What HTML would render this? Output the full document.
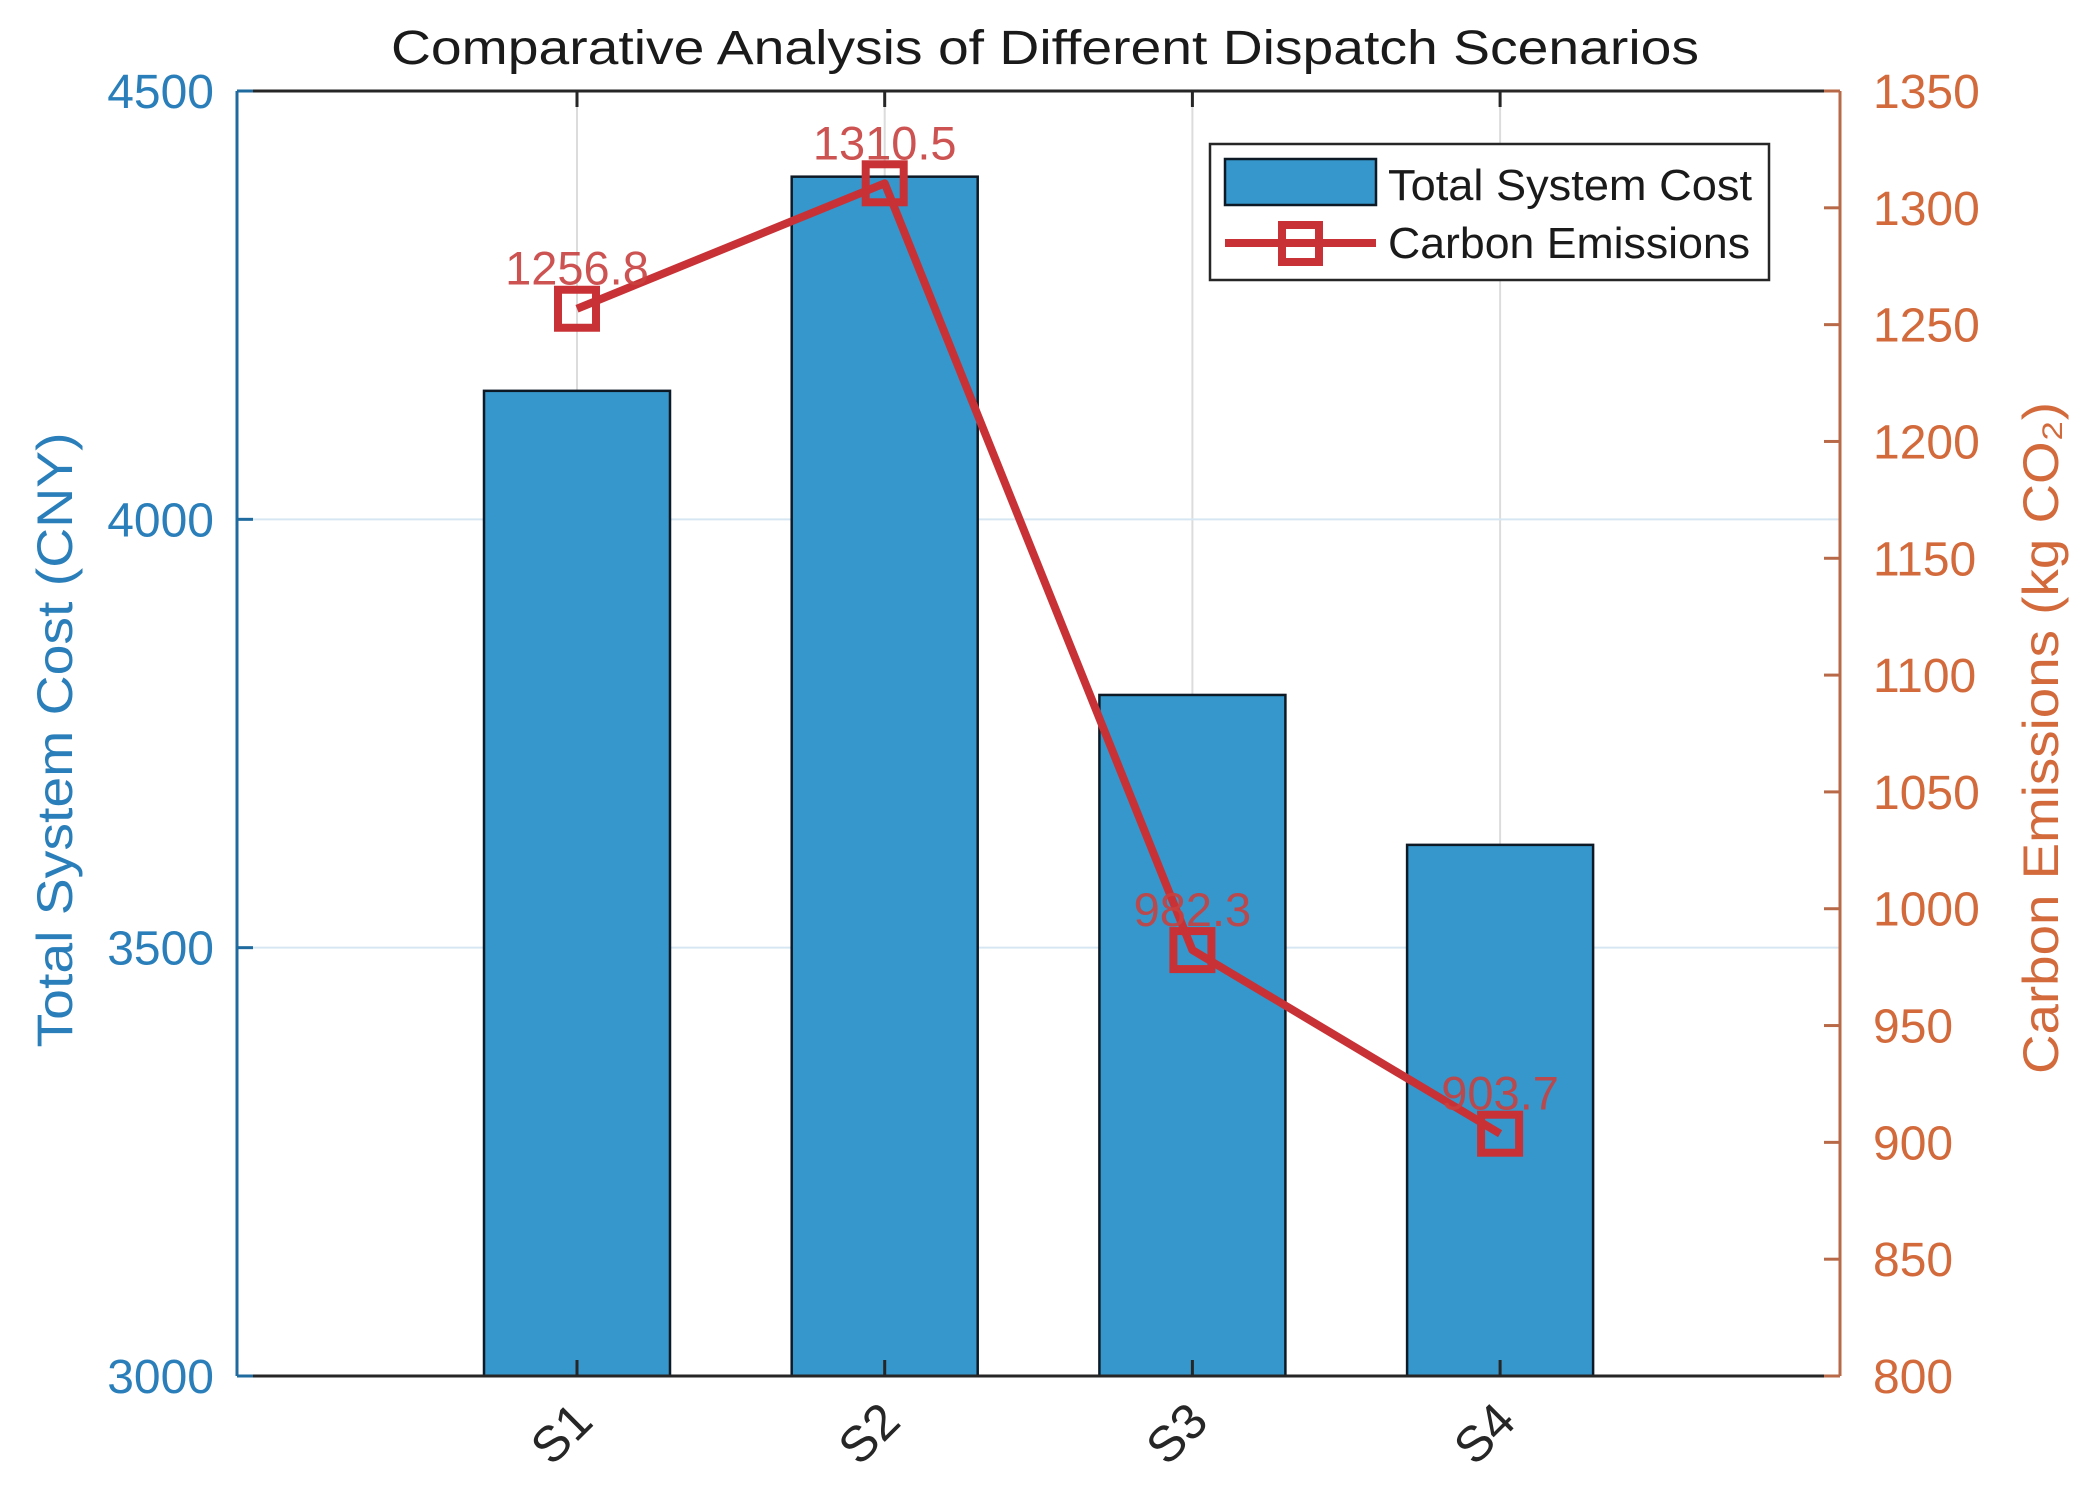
<!DOCTYPE html>
<html><head><meta charset="utf-8"><style>
html,body{margin:0;padding:0;background:#fff}
svg{display:block;font-family:"Liberation Sans",Arial,sans-serif}
</style></head><body>
<svg id="chart" width="2082" height="1502" viewBox="0 0 2082 1502" xmlns="http://www.w3.org/2000/svg">
<rect x="0" y="0" width="2082" height="1502" fill="#fff"/>
<g id="plot"></g>
</svg>
<script>
const categories = ['S1','S2','S3','S4'];
const costValues = [4150, 4400, 3795, 3620];
const emissionValues = [1256.8, 1310.5, 982.3, 903.7];
const leftTicks = [3000, 3500, 4000, 4500];
const rightTicks = [800, 850, 900, 950, 1000, 1050, 1100, 1150, 1200, 1250, 1300, 1350];

const L = 237, R = 1840, T = 91, B = 1376;
const NS = 'http://www.w3.org/2000/svg';
const g = document.getElementById('plot');
function el(tag, attrs, parent, text) {
  const e = document.createElementNS(NS, tag);
  for (const k in attrs) e.setAttribute(k, attrs[k]);
  if (text !== undefined) e.textContent = text;
  (parent || g).appendChild(e);
  return e;
}
const xPos = i => 577 + i * 307.7;
const yLeft = v => B - (v - 3000) / 1500 * (B - T);
const yRight = v => B - (v - 800) / 550 * (B - T);
const barW = 186;

categories.forEach((c, i) => {
  const e = el('line', {x1: xPos(i), x2: xPos(i), y1: T, y2: B, stroke: '#dcdcdc', 'stroke-width': 2});
  
  
});
leftTicks.forEach(v => {
  if (v === 3000 || v === 4500) return;
  const e = el('line', {x1: L, x2: R, y1: yLeft(v), y2: yLeft(v), stroke: '#d6e6f2', 'stroke-width': 2});
  
  
});

categories.forEach((c, i) => {
  const y = yLeft(costValues[i]);
  const e = el('rect', {x: xPos(i) - barW / 2, y: y, width: barW, height: B - y, fill: '#3597CB', stroke: '#0d1a26', 'stroke-width': 2.5});
  
  
});

let a;
a = el('line', {x1: L, x2: R, y1: T, y2: T, stroke: '#262626', 'stroke-width': 3});
 
a = el('line', {x1: L, x2: R, y1: B, y2: B, stroke: '#262626', 'stroke-width': 3});
 
a = el('line', {x1: L, x2: L, y1: T, y2: B, stroke: '#1f6a9e', 'stroke-width': 3});
 
a = el('line', {x1: R, x2: R, y1: T, y2: B, stroke: '#b86a48', 'stroke-width': 3});
 

categories.forEach((c, i) => {
  const x = xPos(i);
  let t = el('line', {x1: x, x2: x, y1: B, y2: B - 16, stroke: '#262626', 'stroke-width': 3});
   
  t = el('line', {x1: x, x2: x, y1: T, y2: T + 16, stroke: '#262626', 'stroke-width': 3});
   
  const lbl = el('text', {x: x + 18, y: B + 48, 'font-size': 50, fill: '#262626', 'text-anchor': 'end', transform: `rotate(-45 ${x + 18} ${B + 48})`}, g, c);
  
  
});

leftTicks.forEach(v => {
  const y = yLeft(v);
  let t = el('line', {x1: L, x2: L + 16, y1: y, y2: y, stroke: '#1f6a9e', 'stroke-width': 3});
   
  const lbl = el('text', {x: 214, y: y + 17, 'font-size': 48, fill: '#2a7fba', 'text-anchor': 'end'}, g, String(v));
  
  
});
rightTicks.forEach(v => {
  const y = yRight(v);
  let t = el('line', {x1: R - 16, x2: R, y1: y, y2: y, stroke: '#b86a48', 'stroke-width': 3});
   
  const lbl = el('text', {x: 1873, y: y + 17, 'font-size': 48, fill: '#D36A3C', 'text-anchor': 'start'}, g, String(v));
  
  
});

const pts = emissionValues.map((v, i) => xPos(i) + ',' + yRight(v)).join(' ');
let ln = el('polyline', {points: pts, fill: 'none', stroke: '#C83236', 'stroke-width': 8, 'stroke-linejoin': 'round'});


emissionValues.forEach((v, i) => {
  const x = xPos(i), y = yRight(v);
  const m = el('rect', {x: x - 19, y: y - 19, width: 38, height: 38, fill: 'none', stroke: '#C83236', 'stroke-width': 8});
  
  
  const lbl = el('text', {x: x, y: y - 24, 'font-size': 47, fill: '#C8403F', 'text-anchor': 'middle', 'fill-opacity': 0.9}, g, v.toFixed(1));
  
  
});
</script>
<script>
const svg = document.getElementById('chart');
const NS2 = 'http://www.w3.org/2000/svg';
function mk(tag, attrs, text, parent) {
  const e = document.createElementNS(NS2, tag);
  for (const k in attrs) e.setAttribute(k, attrs[k]);
  if (text !== undefined) e.textContent = text;
  (parent || svg).appendChild(e);
  return e;
}
let t = mk('text', {x: 1045, y: 64, 'font-size': 48, fill: '#1a1a1a', 'text-anchor': 'middle', textLength: 1308, lengthAdjust: 'spacingAndGlyphs'}, 'Comparative Analysis of Different Dispatch Scenarios');
 
t = mk('text', {x: 0, y: 0, 'font-size': 50, fill: '#2a7fba', 'text-anchor': 'middle', textLength: 615, lengthAdjust: 'spacingAndGlyphs', transform: 'translate(72 740) rotate(-90)'}, 'Total System Cost (CNY)');
 
t = mk('text', {x: 0, y: 0, 'font-size': 50, fill: '#D36A3C', 'text-anchor': 'middle', textLength: 672, lengthAdjust: 'spacingAndGlyphs', transform: 'translate(2058 738) rotate(-90)'}, 'Carbon Emissions (kg CO₂)');
 

const lg = mk('g', {});
 
let r = mk('rect', {x: 1210, y: 144, width: 559, height: 136, fill: '#fff', stroke: '#262626', 'stroke-width': 2.5}, undefined, lg);
 
r = mk('rect', {x: 1225, y: 159, width: 151, height: 46, fill: '#3597CB', stroke: '#0d1a26', 'stroke-width': 2.5}, undefined, lg);
 
r = mk('line', {x1: 1225, x2: 1376, y1: 243, y2: 243, stroke: '#C83236', 'stroke-width': 8}, undefined, lg);
 
r = mk('rect', {x: 1282, y: 225, width: 37, height: 37, fill: 'none', stroke: '#C83236', 'stroke-width': 8}, undefined, lg);
 
r = mk('text', {x: 1388, y: 200, 'font-size': 44, fill: '#1a1a1a', textLength: 364, lengthAdjust: 'spacingAndGlyphs'}, 'Total System Cost', lg);
 
r = mk('text', {x: 1388, y: 258, 'font-size': 44, fill: '#1a1a1a', textLength: 362, lengthAdjust: 'spacingAndGlyphs'}, 'Carbon Emissions', lg);
 
</script>
</body></html>
